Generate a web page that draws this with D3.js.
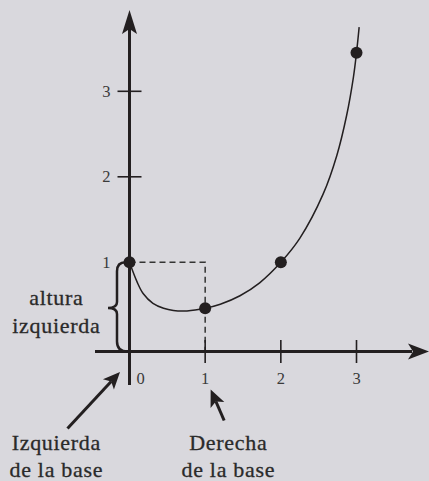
<!DOCTYPE html>
<html>
<head>
<meta charset="utf-8">
<script src="https://cdn.jsdelivr.net/npm/d3@7/dist/d3.min.js"></script>
<style>
  html, body { margin: 0; padding: 0; background: #d9d8dd; }
  svg { display: block; }
  text { font-family: "Liberation Serif", "Times New Roman", serif; }
</style>
</head>
<body>
<svg id="chart" width="429" height="481"></svg>
<script>
// ---- data ----
const curveX = [0, 0.1, 0.18, 0.31, 0.45, 0.58, 0.76, 1.0, 1.2, 1.46, 1.72, 2.0, 2.25, 2.56, 2.74, 2.87, 2.96, 3.0, 3.035];
const curveY = [1, 0.78, 0.65, 0.54, 0.485, 0.46, 0.455, 0.485, 0.53, 0.625, 0.77, 1.0, 1.28, 1.8, 2.25, 2.72, 3.17, 3.45, 3.75];
const pointX = [0, 1, 2, 3];
const pointY = [1, 0.485, 1, 3.45];
const xTicks = [1, 2, 3];
const xTickLabels = ["0", "1", "2", "3"];
const yTicks = [2, 3];
const yTickLabels = ["1", "2", "3"];
const braceLabel = ["altura", "izquierda"];
const leftLabel = ["Izquierda", "de la base"];
const rightLabel = ["Derecha", "de la base"];

// ---- scales ----
const x = d3.scaleLinear().domain([0, 3]).range([129.5, 356.5]);
const y = d3.scaleLinear().domain([0, 1, 3]).range([351.5, 262.3, 91.3]);

const svg = d3.select("#chart");
const ink = "#231f20";

const x0 = x(0), y0 = y(0), y1 = y(1), x1 = x(1);

// dashed guides
svg.append("path")
  .attr("d", `M${x(0)},${y(1)} H${x(1)} V${y(0)}`)
  .attr("fill", "none").attr("stroke", "#333").attr("stroke-width", 1.5)
  .attr("stroke-dasharray", "6,4");

// axes lines
svg.append("line").attr("x1", 95).attr("x2", 412).attr("y1", y0).attr("y2", y0)
  .attr("stroke", ink).attr("stroke-width", 3);
svg.append("line").attr("x1", x0).attr("x2", x0).attr("y1", 385).attr("y2", 28)
  .attr("stroke", ink).attr("stroke-width", 3);

// arrowheads
function stealth(tx, ty, angle, len, half, notch) {
  const ca = Math.cos(angle), sa = Math.sin(angle);
  const p = (u, v) => [tx - u * ca + v * sa, ty - u * sa - v * ca];
  const a = p(len, half), b = p(len - notch, 0), c = p(len, -half);
  return `M${tx},${ty} L${a[0]},${a[1]} L${b[0]},${b[1]} L${c[0]},${c[1]} Z`;
}
svg.append("path").attr("d", stealth(429, y0, 0, 21, 8, 5)).attr("fill", ink);
svg.append("path").attr("d", stealth(x0, 10, -Math.PI / 2, 24, 7.5, 5)).attr("fill", ink);

// ticks
svg.selectAll(".xtick").data(xTicks).enter().append("line")
  .attr("x1", d => x(d)).attr("x2", d => x(d))
  .attr("y1", y0 - 11.5).attr("y2", y0 + 11.5)
  .attr("stroke", ink).attr("stroke-width", 1.6);
svg.selectAll(".ytick").data(yTicks).enter().append("line")
  .attr("x1", x0 - 12).attr("x2", x0 + 12)
  .attr("y1", d => y(d)).attr("y2", d => y(d))
  .attr("stroke", ink).attr("stroke-width", 1.6);

// tick labels
svg.selectAll(".xlab").data(xTickLabels).enter().append("text")
  .attr("x", (d, i) => i === 0 ? x(0) + 11 : x(+d))
  .attr("y", 383.5).attr("text-anchor", "middle")
  .attr("font-size", 16.5).attr("fill", "#3a3a3a").text(d => d);
svg.selectAll(".ylab").data(yTickLabels).enter().append("text")
  .attr("x", x0 - 19).attr("y", d => y(+d) + 5.5).attr("text-anchor", "end")
  .attr("font-size", 16.5).attr("fill", "#3a3a3a").text(d => d);

// curve
const line = d3.line().x(d => x(d[0])).y(d => y(d[1])).curve(d3.curveCatmullRom.alpha(0.5));
svg.append("path").datum(curveX.map((v, i) => [v, curveY[i]]))
  .attr("d", line).attr("fill", "none").attr("stroke", ink).attr("stroke-width", 1.5);

// points
svg.selectAll(".pt").data(pointX.map((v, i) => [v, pointY[i]])).enter().append("circle")
  .attr("cx", d => x(d[0])).attr("cy", d => y(d[1])).attr("r", 6).attr("fill", ink);

// brace
const bx = x0 - 12.5, tip = x0 - 21.5, ym = (y0 + y1) / 2 + 1;
svg.append("path")
  .attr("d", `M${x0 - 4},${y1} Q${bx},${y1} ${bx},${y1 + 9} L${bx},${ym - 6} Q${bx},${ym} ${tip},${ym} Q${bx},${ym} ${bx},${ym + 6} L${bx},${y0 - 10} Q${bx},${y0} ${x0 - 2},${y0}`)
  .attr("fill", "none").attr("stroke", ink).attr("stroke-width", 2.5);

// annotation arrows
function arrow(xa, ya, xb, yb) {
  const ang = Math.atan2(yb - ya, xb - xa);
  const len = 17;
  svg.append("line").attr("x1", xa).attr("y1", ya)
    .attr("x2", xb - (len - 4) * Math.cos(ang)).attr("y2", yb - (len - 4) * Math.sin(ang))
    .attr("stroke", ink).attr("stroke-width", 3);
  svg.append("path").attr("d", stealth(xb, yb, ang, len, 7.5, 4)).attr("fill", ink);
}
arrow(x0 - 62, y0 + 77, x0 - 9.5, y0 + 20.5);
arrow(x1 + 19, y0 + 69, x1 + 5.5, y0 + 38);

// labels
function label(lines, cx, base, gap) {
  lines.forEach((t, i) => {
    svg.append("text").attr("x", cx + 0.35).attr("y", base + i * gap)
      .attr("text-anchor", "middle").attr("font-size", 22)
      .attr("letter-spacing", 0.7)
      .attr("fill", "#2a2a2a").attr("stroke", "#2a2a2a").attr("stroke-width", 0.3)
      .text(t);
  });
}
label(braceLabel, 56, 305, 28);
label(leftLabel, 56, 449.5, 27);
label(rightLabel, 228, 449.5, 27);
</script>
</body>
</html>
